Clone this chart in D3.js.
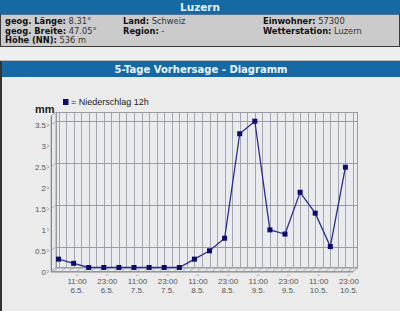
<!DOCTYPE html>
<html><head><meta charset="utf-8">
<script src="https://cdn.jsdelivr.net/npm/d3@7"></script>
<style>
html,body{margin:0;padding:0;background:#ececec;}
svg{display:block;}
</style></head>
<body>
<svg id="c" width="400" height="311"></svg>
<script>
// ---- data ----
const city = "Luzern";
const chartTitle = "5-Tage Vorhersage - Diagramm";
const infoLabels = ["geog. Länge:", "geog. Breite:", "Höhe (NN):", "Land:", "Region:", "Einwohner:", "Wetterstation:"];
const infoValues = ["8.31°", "47.05°", "536 m", "Schweiz", "-", "57300", "Luzern"];
const seriesName = "= Niederschlag 12h";
const unit = "mm";
const times = ["2009-05-06 05:00","2009-05-06 11:00","2009-05-06 17:00","2009-05-06 23:00",
               "2009-05-07 05:00","2009-05-07 11:00","2009-05-07 17:00","2009-05-07 23:00",
               "2009-05-08 05:00","2009-05-08 11:00","2009-05-08 17:00","2009-05-08 23:00",
               "2009-05-09 05:00","2009-05-09 11:00","2009-05-09 17:00","2009-05-09 23:00",
               "2009-05-10 05:00","2009-05-10 11:00","2009-05-10 17:00","2009-05-10 23:00"];
const precip = [0.2, 0.1, 0, 0, 0, 0, 0, 0, 0, 0.2, 0.4, 0.7, 3.2, 3.5, 0.9, 0.8, 1.8, 1.3, 0.5, 2.4];
const yTicks = [0, 0.5, 1, 1.5, 2, 2.5, 3, 3.5];
const yTickLabels = ["0", "0.5", "1", "1.5", "2", "2.5", "3", "3.5"];
const xTickTimes = ["2009-05-06 11:00","2009-05-06 23:00","2009-05-07 11:00","2009-05-07 23:00",
                    "2009-05-08 11:00","2009-05-08 23:00","2009-05-09 11:00","2009-05-09 23:00",
                    "2009-05-10 11:00","2009-05-10 23:00"];
const xTickLabels = [["11:00","6.5."],["23:00","6.5."],["11:00","7.5."],["23:00","7.5."],
                     ["11:00","8.5."],["23:00","8.5."],["11:00","9.5."],["23:00","9.5."],
                     ["11:00","10.5."],["23:00","10.5."]];
const gridValues = [0.5, 1.5, 2.5, 3.5];

// ---- drawing ----
const parse = d3.utcParse("%Y-%m-%d %H:%M");
const svg = d3.select("#c");
const W = 400;
const blue = "#1769a4";

// header bar
svg.append("rect").attr("x",0).attr("y",0).attr("width",W).attr("height",14).attr("fill",blue);
svg.append("text").attr("x",200).attr("y",11).attr("text-anchor","middle")
  .attr("font-family","DejaVu Sans, Verdana, sans-serif").attr("font-weight","bold")
  .attr("font-size",10.5).attr("fill","#dff3ff").text(city);
// info box
svg.append("rect").attr("x",0.5).attr("y",14).attr("width",W-1).attr("height",32.5)
  .attr("fill","#cbcbcb").attr("stroke","#3a3a3a").attr("stroke-width",1);
svg.append("rect").attr("x",0).attr("y",13).attr("width",W).attr("height",1.5).attr("fill",blue);
const cols = [5, 123, 263];
const infoPos = [[0,0],[0,1],[0,2],[1,0],[1,1],[2,0],[2,1]];
const rowY = [24, 33.5, 43];
infoLabels.forEach((lab,i)=>{
  const [c,r] = infoPos[i];
  const t = svg.append("text").attr("x",cols[c]).attr("y",rowY[r])
    .attr("font-family","DejaVu Sans, Verdana, sans-serif").attr("font-size",8.3).attr("fill","#111");
  t.append("tspan").attr("font-weight","bold").text(lab);
  t.append("tspan").attr("fill","#333").text(" " + infoValues[i]);
});
// gap strip
svg.append("rect").attr("x",0).attr("y",47).attr("width",W).attr("height",13).attr("fill","#eeeeee");
// chart section
svg.append("rect").attr("x",0).attr("y",61).attr("width",W).attr("height",250).attr("fill","#ebebeb");
svg.append("line").attr("x1",0).attr("x2",W).attr("y1",60.5).attr("y2",60.5).attr("stroke","#bbb");
svg.append("rect").attr("x",0).attr("y",61).attr("width",W).attr("height",16).attr("fill",blue);
svg.append("text").attr("x",201).attr("y",73).attr("text-anchor","middle")
  .attr("font-family","DejaVu Sans, Verdana, sans-serif").attr("font-weight","bold")
  .attr("font-size",10).attr("fill","#eaf6ff").text(chartTitle);
svg.append("rect").attr("x",0).attr("y",61).attr("width",2).attr("height",250).attr("fill","#333");

// plot geometry (back wall)
const bx0 = 56, bx1 = 358, byTop = 112, by0 = 267.5;
const ddx = -5, ddy = 4; // front offset
const x = d3.scaleUtc().domain([parse("2009-05-06 04:00"), parse("2009-05-11 04:00")]).range([bx0, bx1]);
const y = d3.scaleLinear().domain([0, 3.72]).range([by0, byTop]);
const gridCol = "#a2a6ad";

const g = svg.append("g");
// back wall
g.append("rect").attr("x",bx0).attr("y",byTop).attr("width",bx1-bx0).attr("height",by0-byTop)
  .attr("fill","#e9ebef");
// left wall
g.append("path").attr("d",`M${bx0},${byTop}L${bx0+ddx},${byTop+ddy}L${bx0+ddx},${by0+ddy}L${bx0},${by0}Z`)
  .attr("fill","#e6e8ec").attr("stroke",gridCol).attr("stroke-width",1);
// floor
g.append("path").attr("d",`M${bx0},${by0}L${bx1},${by0}L${bx1+ddx},${by0+ddy}L${bx0+ddx},${by0+ddy}Z`)
  .attr("fill","#e6e8ec").attr("stroke",gridCol).attr("stroke-width",1);

// vertical gridlines every 3h
const vg = d3.utcHour.range(parse("2009-05-06 05:00"), parse("2009-05-11 04:00"), 3);
g.selectAll(".vg").data(vg).join("line")
  .attr("x1",d=>Math.round(x(d))+0.5).attr("x2",d=>Math.round(x(d))+0.5)
  .attr("y1",byTop).attr("y2",by0).attr("stroke",gridCol).attr("stroke-width",1);
g.selectAll(".fg").data(vg).join("line")
  .attr("x1",d=>x(d)).attr("x2",d=>x(d)+ddx)
  .attr("y1",by0).attr("y2",by0+ddy).attr("stroke",gridCol).attr("stroke-width",0.8);
// horizontal gridlines
g.selectAll(".hg").data(gridValues).join("line")
  .attr("x1",bx0).attr("x2",bx1).attr("y1",d=>Math.round(y(d))+0.5).attr("y2",d=>Math.round(y(d))+0.5)
  .attr("stroke","#979ba2").attr("stroke-width",1);
g.selectAll(".lg").data(gridValues).join("line")
  .attr("x1",bx0).attr("x2",bx0+ddx).attr("y1",d=>y(d)).attr("y2",d=>y(d)+ddy)
  .attr("stroke",gridCol).attr("stroke-width",0.8);
// frame
g.append("rect").attr("x",bx0+0.5).attr("y",byTop+0.5).attr("width",bx1-bx0-1).attr("height",by0-byTop)
  .attr("fill","none").attr("stroke","#979ba2").attr("stroke-width",1);
g.append("line").attr("x1",bx0+ddx).attr("x2",bx1+ddx).attr("y1",by0+ddy+0.5).attr("y2",by0+ddy+0.5)
  .attr("stroke","#888").attr("stroke-width",1);
g.append("line").attr("x1",bx0+ddx+0.5).attr("x2",bx0+ddx+0.5).attr("y1",byTop+ddy).attr("y2",by0+ddy)
  .attr("stroke","#888").attr("stroke-width",1);

// y tick labels (front)
const yl = svg.append("g").attr("font-family","Liberation Sans, Arial, sans-serif").attr("font-size",8).attr("fill","#555");
yl.selectAll("text").data(yTicks).join("text")
  .attr("x",46).attr("y",d=>y(d)+ddy+3).attr("text-anchor","end").text((d,i)=>yTickLabels[i]);
yl.selectAll("path").data(yTicks).join("path")
  .attr("d",d=>`M47,${y(d)+ddy-1.5}L49,${y(d)+ddy}L47,${y(d)+ddy+1.5}`)
  .attr("fill","none").attr("stroke","#999").attr("stroke-width",0.8);

// x tick labels
const xl = svg.append("g").attr("font-family","Liberation Sans, Arial, sans-serif").attr("font-size",8).attr("fill","#555").attr("text-anchor","middle");
xTickTimes.forEach((t,i)=>{
  const px = x(parse(t)) + 3.5;
  xl.append("text").attr("x",px).attr("y",283.5).text(xTickLabels[i][0]);
  xl.append("text").attr("x",px).attr("y",293).text(xTickLabels[i][1]);
  xl.append("path").attr("d",`M${px-1.5},${276}L${px},${274.5}L${px+1.5},${276}`)
    .attr("fill","none").attr("stroke","#aaa").attr("stroke-width",0.8);
});

// unit + legend
svg.append("text").attr("x",35).attr("y",112.5).attr("font-family","Liberation Sans, Arial, sans-serif")
  .attr("font-weight","bold").attr("font-size",11).attr("fill","#222").text(unit);
svg.append("rect").attr("x",63).attr("y",99).attr("width",5.5).attr("height",6).attr("fill","#0b0b6b");
svg.append("text").attr("x",71).attr("y",104.5).attr("font-family","Liberation Sans, Arial, sans-serif")
  .attr("font-size",9).attr("fill","#222").text(seriesName);

// series
const pts = times.map((t,i)=>({t:parse(t), v:precip[i]}));
svg.append("path").datum(pts)
  .attr("d", d3.line().x(d=>x(d.t)).y(d=>y(d.v)))
  .attr("fill","none").attr("stroke","#2e2e8c").attr("stroke-width",1.3);
svg.selectAll(".pt").data(pts).join("rect")
  .attr("x",d=>x(d.t)-2.5).attr("y",d=>y(d.v)-2.5).attr("width",5).attr("height",5)
  .attr("fill","#0c0c6e");
</script>
</body></html>
